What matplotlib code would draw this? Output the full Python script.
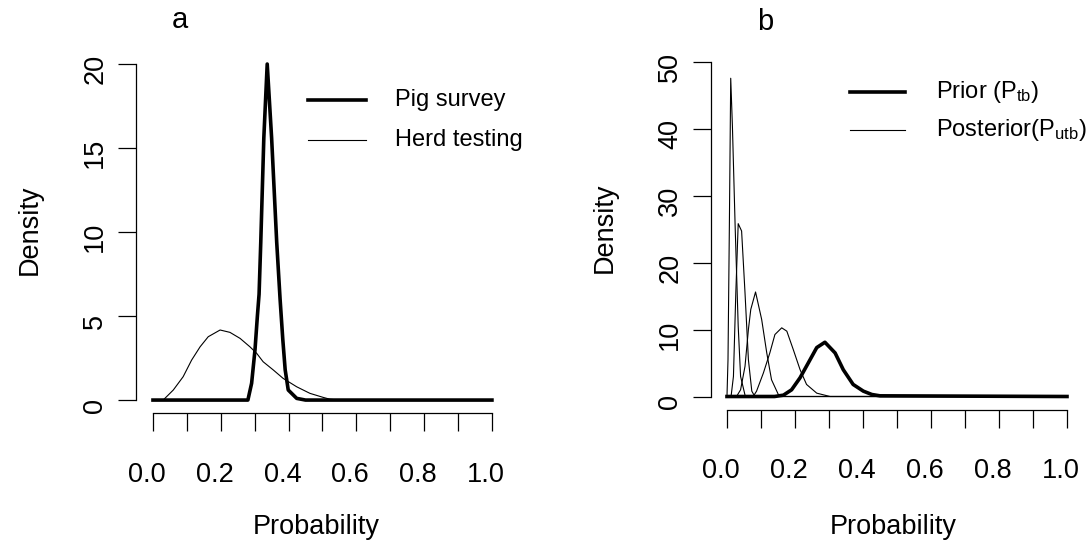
"""
Density curves for the pig survey / herd testing comparison (a)
and the prior vs. posterior densities (b), drawn in R base-plot style.
"""

import matplotlib
matplotlib.use("Agg")
import matplotlib.pyplot as plt
import matplotlib.transforms as mtransforms

plt.rcParams['font.family'] = ['Liberation Sans', 'DejaVu Sans']

W, H = 1092, 543

# ---- panel a ----
pig_x = [0.0, 0.28, 0.291, 0.301, 0.308, 0.313, 0.318, 0.327, 0.337, 0.350,
         0.365, 0.375, 0.383, 0.390, 0.399, 0.424, 0.45, 1.0]
pig_y = [0, 0, 1.0, 3.0, 5.0, 6.3, 9.4, 15.6, 20.0, 15.6,
         9.4, 6.0, 3.6, 1.8, 0.6, 0.1, 0, 0]

herd_x = [0.0, 0.03, 0.06, 0.089, 0.114, 0.139, 0.163, 0.198, 0.227, 0.257,
          0.286, 0.306, 0.325, 0.355, 0.384, 0.424, 0.463, 0.502, 0.522,
          0.55, 1.0]
herd_y = [0, 0, 0.6, 1.39, 2.38, 3.17, 3.77, 4.17, 4.03, 3.67,
          3.17, 2.78, 2.28, 1.79, 1.29, 0.79, 0.40, 0.16, 0.05,
          0, 0]

# ---- panel b ----
prior_x = [0.0, 0.14, 0.166, 0.190, 0.215, 0.239, 0.264, 0.288, 0.318,
           0.342, 0.371, 0.401, 0.426, 0.45, 1.0]
prior_y = [0, 0, 0.2, 1.0, 2.8, 5.0, 7.3, 8.1, 6.5,
           4.0, 1.8, 0.8, 0.3, 0.1, 0]

post1_x = [0.0, 0.003, 0.007, 0.011, 0.016, 0.024, 0.033, 0.040, 0.054, 1.0]
post1_y = [0, 5.5, 25.4, 47.5, 40.3, 25.4, 10.5, 3.0, 0, 0]

post2_x = [0.0, 0.012, 0.019, 0.026, 0.033, 0.043, 0.053, 0.063, 0.073,
           0.082, 1.0]
post2_y = [0, 0, 3.0, 15.5, 25.8, 24.7, 15.5, 5.5, 0.8, 0, 0]

post3_x = [0.0, 0.028, 0.040, 0.053, 0.063, 0.070, 0.084, 0.102, 0.117,
           0.131, 0.151, 0.16, 1.0]
post3_y = [0, 0, 1.0, 4.5, 10.0, 13.0, 15.6, 11.5, 6.5, 2.5, 0.3, 0, 0]

post4_x = [0.0, 0.077, 0.087, 0.107, 0.126, 0.141, 0.161, 0.176, 0.195,
           0.215, 0.234, 0.264, 0.303, 1.0]
post4_y = [0, 0, 0.8, 3.5, 6.5, 9.25, 10.25, 9.75, 7.0, 4.0, 1.8, 0.5, 0, 0]

posteriors = [(post1_x, post1_y), (post2_x, post2_y),
              (post3_x, post3_y), (post4_x, post4_y)]

x_ticks = [0.0, 0.1, 0.2, 0.3, 0.4, 0.5, 0.6, 0.7, 0.8, 0.9, 1.0]
x_labels = ['0.0', '', '0.2', '', '0.4', '', '0.6', '', '0.8', '', '1.0']
a_yticks = [0, 5, 10, 15, 20]
b_yticks = [0, 10, 20, 30, 40, 50]

THICK = 2.6
THIN = 0.8
FS_TICK = 19.5
FS_LEG = 17


def px_rect(left, top, width, height):
    return [left / W, 1 - (top + height) / H, width / W, height / H]


def fx(x):
    return x / W


def fy(y):
    return 1 - y / H


def r_style(ax, xlim, ylim, yticks):
    ax.set_xlim(*xlim)
    ax.set_ylim(*ylim)
    for s in ('top', 'right'):
        ax.spines[s].set_visible(False)
    ax.spines['left'].set_bounds(yticks[0], yticks[-1])
    ax.spines['bottom'].set_bounds(x_ticks[0], x_ticks[-1])
    for s in ('left', 'bottom'):
        ax.spines[s].set_linewidth(0.9)
    ax.set_xticks(x_ticks)
    ax.set_xticklabels(x_labels)
    ax.set_yticks(yticks)
    ax.set_yticklabels([str(t) for t in yticks])
    ax.tick_params(axis='both', direction='out', length=13, width=0.9,
                   labelsize=FS_TICK, color='black')
    ax.tick_params(axis='x', pad=22)
    ax.tick_params(axis='y', pad=7)
    fig = ax.figure
    xoff = mtransforms.ScaledTranslation(-6 / 100, 0, fig.dpi_scale_trans)
    for lab in ax.get_xticklabels():
        lab.set_transform(lab.get_transform() + xoff)
    yoff = mtransforms.ScaledTranslation(0, -5 / 100, fig.dpi_scale_trans)
    for lab in ax.get_yticklabels():
        lab.set_rotation(90)
        lab.set_va('center')
        lab.set_transform(lab.get_transform() + yoff)


fig = plt.figure(figsize=(W / 100, H / 100), dpi=100)

# panel a
ax1 = fig.add_axes(px_rect(136, 50.6, 369.5, 362.4))
ax1.patch.set_visible(False)
ax1.plot(herd_x, herd_y, color='black', lw=THIN)
ax1.plot(pig_x, pig_y, color='black', lw=THICK, solid_joinstyle='round')
r_style(ax1, (-0.0501, 1.04), (-0.77, 20.8), a_yticks)

# panel b
ax2 = fig.add_axes(px_rect(711, 48.1, 369.6, 361.4))
ax2.patch.set_visible(False)
for px_, py_ in posteriors:
    ax2.plot(px_, py_, color='black', lw=THIN)
ax2.plot(prior_x, prior_y, color='black', lw=THICK, solid_joinstyle='round')
r_style(ax2, (-0.047, 1.04), (-1.94, 52), b_yticks)

# panel letters
fig.text(fx(180), fy(20), 'a', fontsize=21, ha='center', va='center')
fig.text(fx(765), fy(22), 'b', fontsize=21, ha='center', va='center')

# axis titles
fig.text(fx(30), fy(230), 'Density', fontsize=FS_TICK, rotation=90,
         ha='center', va='center')
fig.text(fx(605), fy(228), 'Density', fontsize=FS_TICK, rotation=90,
         ha='center', va='center')
fig.text(fx(316), fy(527), 'Probability', fontsize=FS_TICK,
         ha='center', va='center')
fig.text(fx(893), fy(527), 'Probability', fontsize=FS_TICK,
         ha='center', va='center')

# legends, drawn by hand like R's legend() without a box
fig.add_artist(plt.Line2D([fx(308), fx(366)], [fy(100), fy(100)],
                          color='black', lw=THICK))
fig.add_artist(plt.Line2D([fx(308), fx(366)], [fy(140), fy(140)],
                          color='black', lw=THIN))
fig.text(fx(395), fy(100), 'Pig survey', fontsize=FS_LEG, va='center')
fig.text(fx(395), fy(140), 'Herd testing', fontsize=FS_LEG, va='center')

fig.add_artist(plt.Line2D([fx(850), fx(905)], [fy(92), fy(92)],
                          color='black', lw=THICK))
fig.add_artist(plt.Line2D([fx(850), fx(905)], [fy(130), fy(130)],
                          color='black', lw=THIN))
fig.text(fx(936), fy(92), r'Prior (P$\mathregular{_{tb}}$)',
         fontsize=FS_LEG, va='center')
fig.text(fx(936), fy(130), r'Posterior(P$\mathregular{_{utb}}$)',
         fontsize=FS_LEG, va='center')

fig.savefig('out.png', dpi=100)
